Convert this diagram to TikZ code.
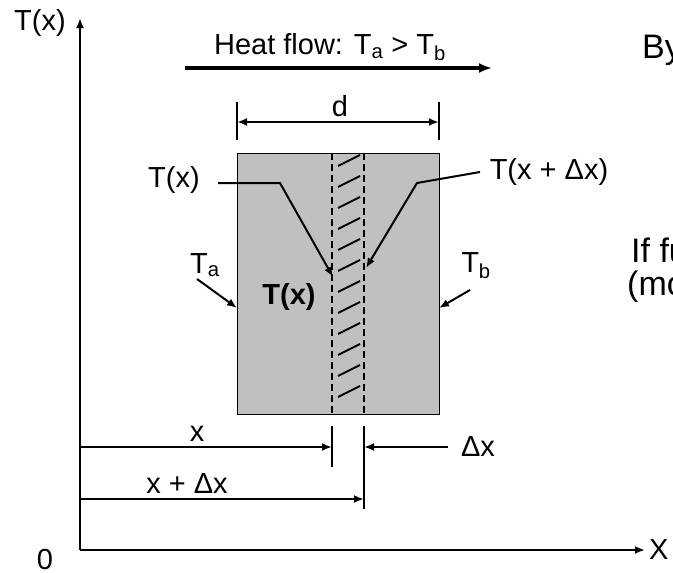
\documentclass[tikz,border=0pt]{standalone}
\usepackage{fontspec}
\setmainfont{Liberation Sans}
\usetikzlibrary{arrows.meta,positioning}
\definecolor{slabgray}{RGB}{192,192,192}

\begin{document}
\begin{tikzpicture}[x=1pt, y=-1pt,
      every node/.style = {font=\fontsize{29}{34}\selectfont, inner sep=1pt},
      line/.style = {line width=2pt},
      tip/.style = {-{Latex[length=10pt,width=8pt]}},
      bigtext/.style = {font=\fontsize{34}{40}\selectfont, anchor=base west}]
    \useasboundingbox (0,0) rectangle (673,573);
    \clip (0,0) rectangle (673,573);

    % axes
    \coordinate (O) at (80,550);
    \coordinate (ytop) at (80,18);
    \coordinate (xend) at (645,550);
    \draw[line, tip] (O) -- (ytop);
    \draw[line, tip] (O) -- (xend);
    \node (Tylab) at (40,23) {T(x)};
    \node (zero) at (45,560) {0};
    \node[right=3pt of xend] (Xlab) {X};

    % heat flow
    \node (heat) at (330,47) {Heat flow: T\textsubscript{a} > T\textsubscript{b}};
    \coordinate (hs) at (185,68);
    \coordinate (he) at (492,68);
    \draw[line width=3.5pt, -{Latex[length=13pt,width=10pt]}] (hs) -- (he);

    % slab
    \node[draw, line width=1pt, fill=slabgray, minimum width=202pt, minimum height=261pt,
          inner sep=0pt, anchor=north west] (slab) at (237,153) {};
    \draw[line, dash pattern=on 7pt off 4pt] (332,153) -- (332,414);
    \draw[line, dash pattern=on 7pt off 4pt] (364,153) -- (364,414);
    \foreach \y in {170,191,...,401}
      \draw[line] (338,\y-4) -- (360,\y-15);

    % width d
    \draw[line] (237,102) -- (237,140);
    \draw[line] (439,102) -- (439,140);
    \coordinate (dl) at (237,122);
    \coordinate (dr) at (439,122);
    \draw[line, {Latex[length=10pt,width=8pt]}-{Latex[length=10pt,width=8pt]}] (dl) -- (dr);
    \node (d) at (340,106) {d};

    % labels with leaders
    \node (Tx) at (174,180) {T(x)};
    \coordinate (txa) at (218,183);
    \coordinate (txb) at (280,183);
    \coordinate (txc) at (333,277);
    \draw[line, tip] (txa) -- (txb) -- (txc);

    \node (Txd) at (549,172) {T(x + Δx)};
    \coordinate (tda) at (480,172);
    \coordinate (tdb) at (417,183);
    \coordinate (tdc) at (366,268);
    \draw[line, tip] (tda) -- (tdb) -- (tdc);

    \node (Ta) at (205,265) {T\textsubscript{a}};
    \coordinate (taa) at (197,279);
    \coordinate (tab) at (237,308);
    \draw[line, tip] (taa) -- (tab);

    \node (Tb) at (476,266) {T\textsubscript{b}};
    \coordinate (tba) at (470,290);
    \coordinate (tbb) at (439,308);
    \draw[line, tip] (tba) -- (tbb);

    \node[font=\fontsize{29}{34}\selectfont\bfseries] (Tbold) at (289,297) {T(x)};

    % positions x and x + dx
    \draw[line] (332,426) -- (332,467);
    \draw[line] (364,426) -- (364,509);
    \coordinate (xa) at (80,447);
    \coordinate (xb) at (332,447);
    \draw[line, tip] (xa) -- (xb);
    \node (xlab) at (197,434) {x};
    \coordinate (dxa) at (448,447);
    \coordinate (dxb) at (364,447);
    \draw[line, tip] (dxa) -- (dxb);
    \node (dxlab) at (478,447) {Δx};
    \coordinate (xda) at (80,499);
    \coordinate (xdb) at (364,499);
    \draw[line, tip] (xda) -- (xdb);
    \node (xdlab) at (187,484) {x + Δx};

    % cut-off text at the right
    \node[bigtext] (by) at (641,58) {By};
    \node[bigtext] (iff) at (630,262) {If fu};
    \node[bigtext] (mo) at (626,295) {(mo};
\end{tikzpicture}
\end{document}
